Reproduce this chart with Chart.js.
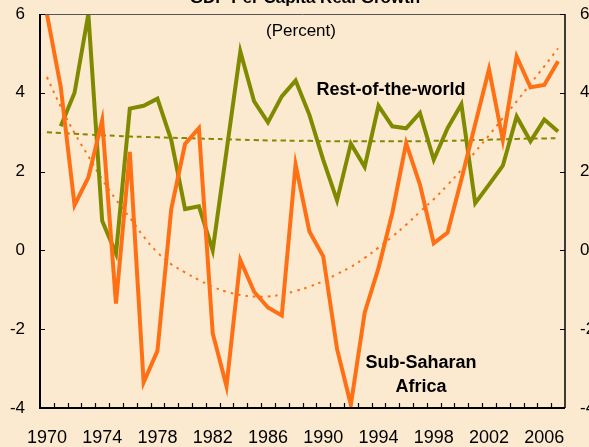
<!DOCTYPE html>
<html>
<head>
<meta charset="utf-8">
<script src="https://cdn.jsdelivr.net/npm/chart.js@4"></script>
<style>
  html, body { margin: 0; padding: 0; background: #fcead0; }
  canvas { display: block; }
</style>
</head>
<body>
<canvas id="myChart" width="589" height="447"></canvas>
<script>
// GDP per capita real growth, percent
const years = [
  '1970', '1971', '1972', '1973', '1974', '1975', '1976', '1977', '1978', '1979',
  '1980', '1981', '1982', '1983', '1984', '1985', '1986', '1987', '1988', '1989',
  '1990', '1991', '1992', '1993', '1994', '1995', '1996', '1997', '1998', '1999',
  '2000', '2001', '2002', '2003', '2004', '2005', '2006', '2007'
];
const subSaharan = [
  6.0, 4.15, 1.15, 1.85, 3.3, -1.35, 2.5, -3.35, -2.55, 1.05,
  2.7, 3.1, -2.1, -3.45, -0.25, -1.05, -1.45, -1.65, 2.18, 0.48,
  -0.15, -2.5, -3.92, -1.58, -0.45, 0.95, 2.72, 1.67, 0.18, 0.45,
  1.8, 3.2, 4.6, 2.8, 4.92, 4.14, 4.2, 4.8
];
const restOfWorld = [
  null, 3.15, 4.0, 6.0, 0.75, -0.08, 3.6, 3.67, 3.85, 2.8,
  1.05, 1.12, 0.0, 2.52, 5.05, 3.78, 3.25, 3.91, 4.31, 3.44,
  2.3, 1.27, 2.71, 2.12, 3.67, 3.15, 3.1, 3.49, 2.3, 3.1,
  3.71, 1.2, 1.67, 2.15, 3.4, 2.77, 3.32, 3.02
];
const subSaharanTrend = [
  4.4, 3.65, 2.98, 2.39, 1.8, 1.29, 0.83, 0.35, -0.05, -0.35,
  -0.56, -0.75, -0.92, -1.05, -1.13, -1.17, -1.17, -1.12, -1.03, -0.92,
  -0.78, -0.6, -0.42, -0.19, 0.07, 0.35, 0.65, 0.98, 1.3, 1.66,
  2.05, 2.5, 2.92, 3.36, 3.78, 4.23, 4.67, 5.13
];
const restOfWorldTrend = [
  3.0, 2.98, 2.96, 2.94, 2.92, 2.91, 2.89, 2.88, 2.87, 2.86,
  2.85, 2.84, 2.83, 2.82, 2.81, 2.8, 2.79, 2.79, 2.78, 2.78,
  2.77, 2.77, 2.77, 2.77, 2.77, 2.77, 2.77, 2.77, 2.78, 2.78,
  2.79, 2.8, 2.81, 2.82, 2.83, 2.84, 2.84, 2.85
];
const yTicks = [-4, -2, 0, 2, 4, 6];

const ORANGE = '#ff7014';
const OLIVE = '#808a00';
const FONT = '"Liberation Sans", Arial, sans-serif';

// background, title texts, frame and inward ticks
const decor = {
  id: 'decor',
  beforeDraw(chart) {
    const ctx = chart.ctx;
    ctx.save();
    ctx.fillStyle = '#fcead0';
    ctx.fillRect(0, 0, chart.width, chart.height);
    ctx.fillStyle = '#000';
    ctx.textAlign = 'center';
    ctx.textBaseline = 'alphabetic';
    ctx.font = 'bold 17px ' + FONT;
    ctx.fillText('GDP Per Capita Real Growth', 305, 3);
    ctx.textBaseline = 'middle';
    ctx.font = '17px ' + FONT;
    ctx.fillText('(Percent)', 301, 31);
    ctx.restore();
  },
  afterDraw(chart) {
    const ctx = chart.ctx;
    const a = chart.chartArea;
    const x = chart.scales.x;
    const y = chart.scales.y;
    ctx.save();
    // labels on the lines
    ctx.fillStyle = '#000';
    ctx.textAlign = 'center';
    ctx.textBaseline = 'middle';
    ctx.font = 'bold 18px ' + FONT;
    ctx.fillText('Rest-of-the-world', 391, 90);
    ctx.fillText('Sub-Saharan', 421, 363);
    ctx.fillText('Africa', 421, 387);

    // frame
    ctx.strokeStyle = '#555';
    ctx.lineWidth = 1;
    ctx.beginPath();
    ctx.moveTo(a.left, a.top + 0.5);
    ctx.lineTo(a.right, a.top + 0.5);
    ctx.stroke();
    ctx.strokeStyle = '#000';
    ctx.lineWidth = 1.5;
    ctx.beginPath();
    ctx.moveTo(a.right, a.top);
    ctx.lineTo(a.right, a.bottom);
    ctx.stroke();
    ctx.lineWidth = 2;
    ctx.beginPath();
    ctx.moveTo(a.left, a.top);
    ctx.lineTo(a.left, a.bottom);
    ctx.lineTo(a.right, a.bottom);
    ctx.stroke();

    // inward ticks
    ctx.lineWidth = 1.2;
    ctx.beginPath();
    yTicks.forEach(v => {
      const py = Math.round(y.getPixelForValue(v)) + 0.5;
      ctx.moveTo(a.left, py);
      ctx.lineTo(a.left + 5, py);
      ctx.moveTo(a.right, py);
      ctx.lineTo(a.right - 5, py);
    });
    const step = x.getPixelForValue(1) - x.getPixelForValue(0);
    for (let i = 1; i < years.length; i++) {
      const px = Math.round(x.getPixelForValue(i) - step / 2) + 0.5;
      ctx.moveTo(px, a.bottom);
      ctx.lineTo(px, a.bottom - 5);
    }
    ctx.stroke();
    ctx.restore();
  }
};

function fitY(width) {
  return (s) => {
    s.width = width;
    s.paddingTop = 0;
    s.paddingBottom = 0;
  };
}

const ctx = document.getElementById('myChart').getContext('2d');

const chart = new Chart(ctx, {
  type: 'line',
  data: {
    labels: years,
    datasets: [
      {
        label: 'Sub-Saharan Africa',
        data: subSaharan,
        borderColor: ORANGE,
        borderWidth: 4,
        pointRadius: 0,
        tension: 0,
      },
      {
        label: 'Rest-of-the-world',
        data: restOfWorld,
        borderColor: OLIVE,
        borderWidth: 4,
        pointRadius: 0,
        tension: 0,
      },
      {
        label: 'Sub-Saharan trend',
        data: subSaharanTrend,
        borderColor: ORANGE,
        borderWidth: 2,
        borderDash: [2.5, 5],
        pointRadius: 0,
        tension: 0.4,
      },
      {
        label: 'Rest-of-the-world trend',
        data: restOfWorldTrend,
        borderColor: OLIVE,
        borderWidth: 2,
        borderDash: [5, 4],
        pointRadius: 0,
        tension: 0.4,
      },
    ],
  },
  options: {
    responsive: false,
    animation: false,
    layout: { padding: { top: 14, left: 0, right: 0, bottom: 0 } },
    plugins: {
      legend: { display: false },
      tooltip: { enabled: false },
    },
    scales: {
      x: {
        type: 'category',
        offset: true,
        grid: { display: false, drawTicks: false },
        border: { display: false },
        ticks: {
          autoSkip: false,
          maxRotation: 0,
          padding: 19,
          color: '#000',
          font: { family: FONT, size: 18 },
          callback: (val, i) => (i % 4 === 0 ? years[i] : ''),
        },
        afterFit: (s) => {
          s.height = 39;
          s.paddingLeft = 0;
          s.paddingRight = 0;
        },
      },
      y: {
        min: -4,
        max: 6,
        grid: { display: false, drawTicks: false },
        border: { display: false },
        ticks: {
          stepSize: 2,
          padding: 15,
          color: '#000',
          font: { family: FONT, size: 17 },
        },
        afterFit: fitY(40),
      },
      y2: {
        position: 'right',
        min: -4,
        max: 6,
        grid: { display: false, drawTicks: false },
        border: { display: false },
        ticks: {
          stepSize: 2,
          padding: 15,
          color: '#000',
          font: { family: FONT, size: 17 },
        },
        afterFit: fitY(24),
      },
    },
  },
  plugins: [decor],
});
</script>
</body>
</html>
